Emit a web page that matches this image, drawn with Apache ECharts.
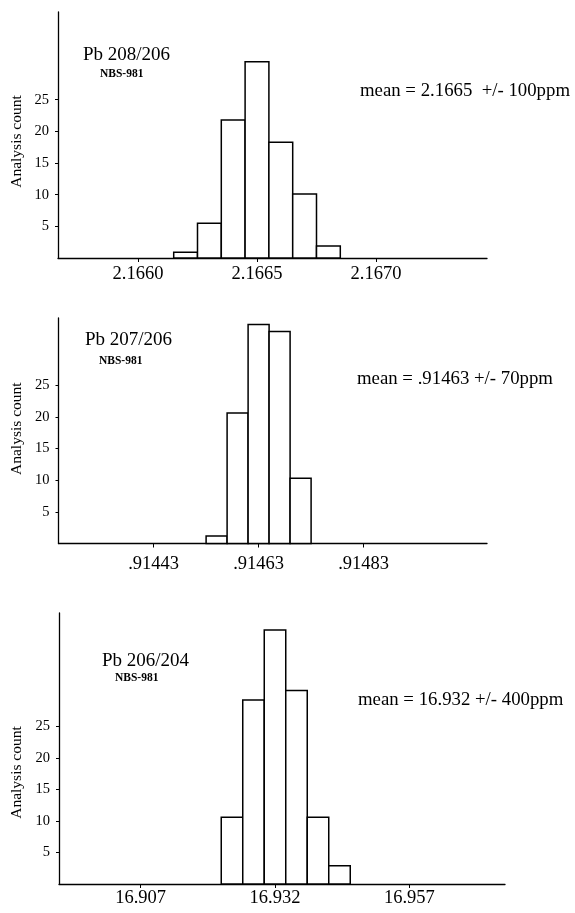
<!DOCTYPE html>
<html><head><meta charset="utf-8">
<script src="https://cdn.jsdelivr.net/npm/echarts@6/dist/echarts.min.js"></script>
<style>html,body{margin:0;padding:0;background:#fff}#c{width:575px;height:913px}</style>
</head><body><div id="c"></div>
<script>
// ---- Data ----
const bins208 = [2.1662, 2.1663, 2.1664, 2.1665, 2.1666, 2.1667, 2.1668];
const counts208 = [0.9, 5.5, 21.8, 31.0, 18.3, 10.1, 1.9];
const binWidth208 = 0.0001;
const ticks208 = [2.1660, 2.1665, 2.1670];

const bins207 = [0.91455, 0.91459, 0.91463, 0.91467, 0.91471];
const counts207 = [1.2, 20.6, 34.6, 33.5, 10.3];
const binWidth207 = 0.00004;
const ticks207 = [0.91443, 0.91463, 0.91483];

const bins206 = [16.924, 16.928, 16.932, 16.936, 16.940, 16.944];
const counts206 = [10.6, 29.2, 40.3, 30.7, 10.6, 2.9];
const binWidth206 = 0.004;
const ticks206 = [16.907, 16.932, 16.957];

const yTicks = [5, 10, 15, 20, 25];
const titles = ['Pb 208/206', 'Pb 207/206', 'Pb 206/204'];
const subtitle = 'NBS-981';
const means = ['mean = 2.1665  +/- 100ppm', 'mean = .91463 +/- 70ppm', 'mean = 16.932 +/- 400ppm'];
const yName = 'Analysis count';

// ---- Chart ----
const FONT = '"Liberation Serif", "Times New Roman", serif';
const chart = echarts.init(document.getElementById('c'), null, {renderer: 'canvas'});

function histItem(binW) {
  return function (params, api) {
    const x = api.value(0), h = api.value(1);
    const p0 = api.coord([x - binW / 2, 0]);
    const p1 = api.coord([x + binW / 2, h]);
    return {
      type: 'rect',
      shape: {x: p0[0], y: p1[1], width: p1[0] - p0[0], height: p0[1] - p1[1]},
      style: {fill: '#fff', stroke: '#000', lineWidth: 1.5}
    };
  };
}

const panels = [
  {bins: bins208, counts: counts208, w: binWidth208, ticks: ticks208,
   fmt: v => v.toFixed(4),
   grid: {left: 58, top: 12, width: 429, height: 246},
   xmin: 2.165663866, xmax: 2.167466387, ymax: 38.86, margin: 7},
  {bins: bins207, counts: counts207, w: binWidth207, ticks: ticks207,
   fmt: v => v.toFixed(5).replace(/^0/, ''),
   grid: {left: 58.5, top: 318, width: 428.5, height: 225.5},
   xmin: 0.91424886, xmax: 0.91506505, ymax: 35.62, margin: 11},
  {bins: bins206, counts: counts206, w: binWidth206, ticks: ticks206,
   fmt: v => v.toFixed(3),
   grid: {left: 59, top: 613, width: 446, height: 271},
   xmin: 16.891814, xmax: 16.974791, ymax: 43.0, margin: 5}
];

const axisLineStyle = {color: '#000', width: 1.3};

const option = {
  backgroundColor: '#fff',
  animation: false,
  grid: panels.map(p => Object.assign({containLabel: false}, p.grid)),
  xAxis: panels.map((p, i) => ({
    type: 'value', gridIndex: i, min: p.xmin, max: p.xmax,
    axisLine: {show: true, onZero: false, lineStyle: axisLineStyle},
    axisTick: {show: true, customValues: p.ticks, length: 4, lineStyle: {color: '#000', width: 1}},
    axisLabel: {customValues: p.ticks, formatter: p.fmt, color: '#000', fontFamily: FONT, fontSize: 18.5, margin: p.margin},
    splitLine: {show: false}
  })),
  yAxis: panels.map((p, i) => ({
    type: 'value', gridIndex: i, min: 0, max: p.ymax,
    axisLine: {show: true, onZero: false, lineStyle: axisLineStyle},
    axisTick: {show: true, customValues: yTicks, length: 3, lineStyle: {color: '#000', width: 1}},
    axisLabel: {customValues: yTicks, color: '#000', fontFamily: FONT, fontSize: 14.5, margin: 9},
    splitLine: {show: false}
  })),
  series: panels.map((p, i) => ({
    type: 'custom', xAxisIndex: i, yAxisIndex: i,
    renderItem: histItem(p.w),
    data: p.bins.map((b, k) => [b, p.counts[k]]),
    clip: false
  })),
  graphic: [
    {type: 'text', x: 83, y: 55, style: {text: titles[0], font: '19px ' + FONT, fill: '#000', verticalAlign: 'middle'}},
    {type: 'text', x: 100, y: 74.5, style: {text: subtitle, font: 'bold 11.5px ' + FONT, fill: '#000', verticalAlign: 'middle'}},
    {type: 'text', x: 360, y: 91, style: {text: means[0], font: '18.8px ' + FONT, fill: '#000', verticalAlign: 'middle'}},
    {type: 'text', x: 17, y: 141.5, rotation: Math.PI / 2, style: {text: yName, font: '15.5px ' + FONT, fill: '#000', align: 'center', verticalAlign: 'middle'}},

    {type: 'text', x: 85, y: 340.5, style: {text: titles[1], font: '19px ' + FONT, fill: '#000', verticalAlign: 'middle'}},
    {type: 'text', x: 99, y: 361.5, style: {text: subtitle, font: 'bold 11.5px ' + FONT, fill: '#000', verticalAlign: 'middle'}},
    {type: 'text', x: 357, y: 379, style: {text: means[1], font: '18.8px ' + FONT, fill: '#000', verticalAlign: 'middle'}},
    {type: 'text', x: 17, y: 428.7, rotation: Math.PI / 2, style: {text: yName, font: '15.5px ' + FONT, fill: '#000', align: 'center', verticalAlign: 'middle'}},

    {type: 'text', x: 102, y: 661, style: {text: titles[2], font: '19px ' + FONT, fill: '#000', verticalAlign: 'middle'}},
    {type: 'text', x: 115, y: 678.5, style: {text: subtitle, font: 'bold 11.5px ' + FONT, fill: '#000', verticalAlign: 'middle'}},
    {type: 'text', x: 358, y: 700, style: {text: means[2], font: '18.8px ' + FONT, fill: '#000', verticalAlign: 'middle'}},
    {type: 'text', x: 17, y: 772.5, rotation: Math.PI / 2, style: {text: yName, font: '15.5px ' + FONT, fill: '#000', align: 'center', verticalAlign: 'middle'}}
  ]
};
chart.setOption(option);
</script>
</body></html>
